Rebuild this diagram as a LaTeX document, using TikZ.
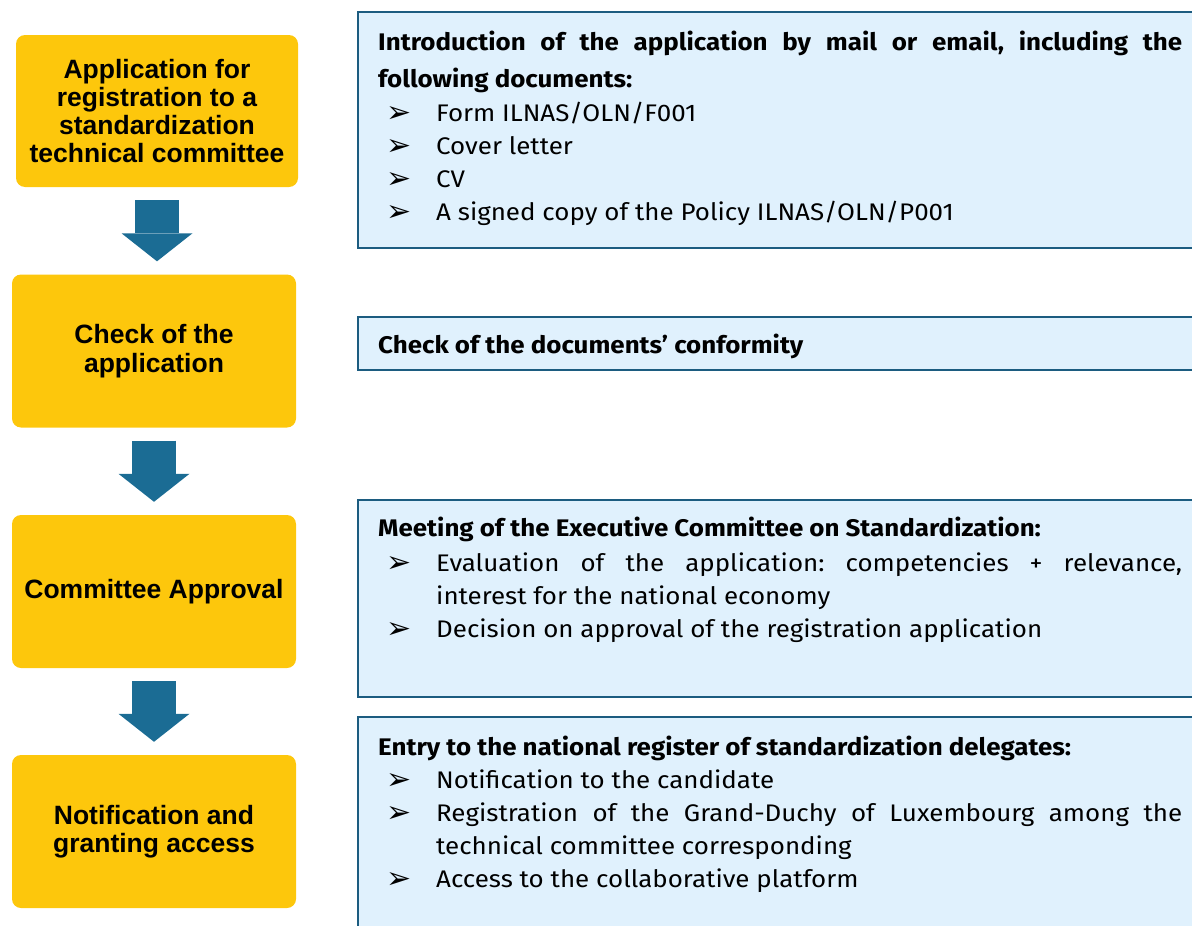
\documentclass[tikz,border=0pt]{standalone}
\usepackage{fontspec}
\setmainfont{Liberation Sans}
\newfontfamily\dinfont[FakeStretch=1.08]{Fira Sans}
\newfontfamily\symfont{DejaVu Sans}
\usetikzlibrary{arrows.meta,positioning,calc}
\definecolor{gold}{RGB}{253,199,12}
\definecolor{petrol}{RGB}{27,108,148}
\definecolor{sky}{RGB}{224,241,253}
\definecolor{navy}{RGB}{28,92,128}
\frenchspacing
% one bullet line of a blue box
\newcommand{\bul}[1]{\par\noindent\hangindent=58pt\hangafter=1%
  \makebox[58pt][l]{\hspace{8pt}\raisebox{-1pt}{\symfont\fontsize{30}{30}\selectfont ➢}}#1}
\tikzset{
  stepbox/.style={fill=gold,rounded corners=9pt,minimum width=284pt,minimum height=153pt,
    align=center,inner sep=0pt,font=\bfseries\fontsize{26.5}{28.3}\selectfont},
  infobox/.style={draw=navy,line width=2pt,fill=sky,anchor=north west,
    minimum width=850pt,inner sep=0pt},
  infotext/.style={anchor=north west,text width=804pt,inner sep=0pt,align=justify,
    font=\dinfont\fontsize{24}{33}\selectfont},
  flow/.style={line width=44pt,draw=petrol,shorten <=13pt,shorten >=13pt,
    -{Triangle[length=28pt,width=71pt,line width=0pt]}},
}

\begin{document}
\begin{tikzpicture}[x=1pt,y=-1pt]
  \useasboundingbox (0,0) rectangle (1192,926);
  \clip (0,0) rectangle (1192,926);
  % steps
  \node[stepbox,minimum width=282pt,minimum height=152pt] (app) at (157,111)
    {Application for\\registration to a\\standardization\\technical committee};
  \node[stepbox] (check) at (154,351) {Check of the\\application};
  \node[stepbox] (approve) at (154,591.5) {Committee Approval};
  \node[stepbox] (notify) at (154,831.5) {Notification and\\granting access};
  \foreach \a/\b in {app/check,check/approve,approve/notify}
    \draw[flow] (\a.south) -- (\a.south |- \b.north);
  % blue boxes
  \node[infobox,minimum height=236pt] (f1) at (357,11) {};
  \node[infobox,minimum height=53pt] (f2) at (357,316) {};
  \node[infobox,minimum height=197pt] (f3) at (357,499) {};
  \node[infobox,minimum height=230pt] (f4) at (357,716) {};
  \node[infotext] (intro) at ($(f1.north west)+(21,20)$) {%
    {\bfseries\fontsize{24}{37}\selectfont Introduction of the application by mail or email, including the\linebreak following documents:\par}\vspace{1pt}
    \bul{Form ILNAS/OLN/F001}
    \bul{Cover letter}
    \bul{CV}
    \bul{A signed copy of the Policy ILNAS/OLN/P001}};
  \node[infotext] (conform) at ($(f2.north west)+(21,18)$) {%
    {\bfseries Check of the documents’ conformity}};
  \node[infotext] (meeting) at ($(f3.north west)+(21,18)$) {%
    {\bfseries\fontsize{24}{37}\selectfont Meeting of the Executive Committee on Standardization:\par}\vspace{2pt}
    \bul{Evaluation of the application: competencies + relevance,\linebreak interest for the national economy}
    \bul{Decision on approval of the registration application}};
  \node[infotext] (entry) at ($(f4.north west)+(21,20)$) {%
    {\bfseries\fontsize{24}{37}\selectfont Entry to the national register of standardization delegates:\par}
    \bul{Notification to the candidate}
    \bul{Registration of the Grand-Duchy of Luxembourg among the\linebreak technical committee corresponding}
    \bul{Access to the collaborative platform}};
\end{tikzpicture}
\end{document}
